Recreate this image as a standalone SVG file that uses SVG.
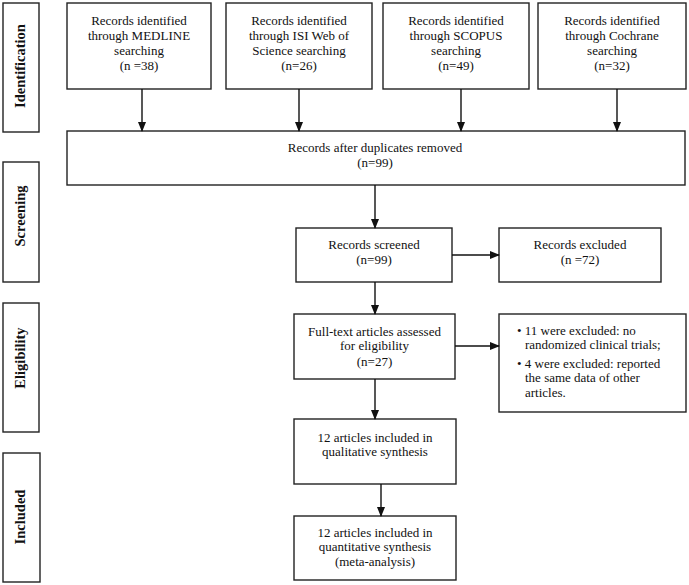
<svg xmlns="http://www.w3.org/2000/svg" width="689" height="585" viewBox="0 0 689 585">
<style>
.box{fill:#fff;stroke:#222;stroke-width:1.4}
.t{font-family:"Liberation Serif","Times New Roman",serif;font-size:13px;fill:#111;text-anchor:middle}
.tl{font-family:"Liberation Serif","Times New Roman",serif;font-size:13px;fill:#111}
.side{font-family:"Liberation Serif","Times New Roman",serif;font-size:14.5px;font-weight:bold;fill:#111;text-anchor:middle}
.c{stroke:#111;stroke-width:1.4;fill:none;marker-end:url(#ah)}
</style>
<defs>
<marker id="ah" markerWidth="10" markerHeight="10" refX="9" refY="5" orient="auto" markerUnits="userSpaceOnUse">
<path d="M0,1 L10,5 L0,9 Z" fill="#111"/>
</marker>
</defs>
<rect width="689" height="585" fill="#fff"/>
<g id="side-identification"><rect class="box" x="3" y="3" width="36" height="129"/><text class="side" transform="translate(25,66) rotate(-90)">Identification</text></g>
<g id="side-screening"><rect class="box" x="3" y="162" width="36" height="120"/><text class="side" transform="translate(25,216) rotate(-90)">Screening</text></g>
<g id="side-eligibility"><rect class="box" x="3" y="303" width="36" height="129"/><text class="side" transform="translate(25,358) rotate(-90)">Eligibility</text></g>
<g id="side-included"><rect class="box" x="3" y="453" width="37" height="129"/><text class="side" transform="translate(25,517) rotate(-90)">Included</text></g>
<g id="medline"><rect class="box" x="67" y="3" width="144" height="86"/><text class="t" x="139" y="25">Records identified</text><text class="t" x="139" y="40">through MEDLINE</text><text class="t" x="139" y="55">searching</text><text class="t" x="139" y="70">(n =38)</text></g>
<g id="isi"><rect class="box" x="226" y="3" width="146" height="86"/><text class="t" x="299" y="25">Records identified</text><text class="t" x="299" y="40">through ISI Web of</text><text class="t" x="299" y="55">Science searching</text><text class="t" x="299" y="70">(n=26)</text></g>
<g id="scopus"><rect class="box" x="383" y="3" width="146" height="86"/><text class="t" x="456" y="25">Records identified</text><text class="t" x="456" y="40">through SCOPUS</text><text class="t" x="456" y="55">searching</text><text class="t" x="456" y="70">(n=49)</text></g>
<g id="cochrane"><rect class="box" x="538" y="3" width="148" height="86"/><text class="t" x="612" y="25">Records identified</text><text class="t" x="612" y="40">through Cochrane</text><text class="t" x="612" y="55">searching</text><text class="t" x="612" y="70">(n=32)</text></g>
<g id="duplicates"><rect class="box" x="67" y="131" width="618" height="54"/><text class="t" x="375" y="152">Records after duplicates removed</text><text class="t" x="375" y="167">(n=99)</text></g>
<g id="screened"><rect class="box" x="296" y="228" width="156" height="54"/><text class="t" x="374" y="249">Records screened</text><text class="t" x="374" y="264">(n=99)</text></g>
<g id="excluded"><rect class="box" x="499" y="228" width="162" height="54"/><text class="t" x="580" y="249">Records excluded</text><text class="t" x="580" y="264">(n =72)</text></g>
<g id="fulltext"><rect class="box" x="294" y="314" width="161" height="65"/><text class="t" x="374.5" y="336">Full-text articles assessed</text><text class="t" x="374.5" y="350">for eligibility</text><text class="t" x="374.5" y="366">(n=27)</text></g>
<g id="excluded2"><rect class="box" x="499" y="314" width="187" height="98"/><text class="tl" x="517" y="335">• 11 were excluded: no</text><text class="tl" x="525" y="349">randomized clinical trials;</text><text class="tl" x="517" y="368">• 4 were excluded: reported</text><text class="tl" x="525" y="382">the same data of other</text><text class="tl" x="525" y="397">articles.</text></g>
<g id="qualitative"><rect class="box" x="294" y="419" width="162" height="65"/><text class="t" x="375" y="442">12 articles included in</text><text class="t" x="375" y="456">qualitative synthesis</text></g>
<g id="quantitative"><rect class="box" x="294" y="516" width="162" height="64"/><text class="t" x="375" y="537">12 articles included in</text><text class="t" x="375" y="551">quantitative synthesis</text><text class="t" x="375" y="566">(meta-analysis)</text></g>
<g id="connectors">
<line class="c" x1="142" y1="89" x2="142" y2="131"/>
<line class="c" x1="299" y1="89" x2="299" y2="131"/>
<line class="c" x1="461" y1="89" x2="461" y2="131"/>
<line class="c" x1="617" y1="89" x2="617" y2="131"/>
<line class="c" x1="375" y1="185" x2="375" y2="228"/>
<line class="c" x1="452" y1="255" x2="499" y2="255"/>
<line class="c" x1="375" y1="282" x2="375" y2="314"/>
<line class="c" x1="455" y1="346" x2="499" y2="346"/>
<line class="c" x1="375" y1="379" x2="375" y2="419"/>
<line class="c" x1="381" y1="484" x2="381" y2="516"/>
</g>
</svg>
